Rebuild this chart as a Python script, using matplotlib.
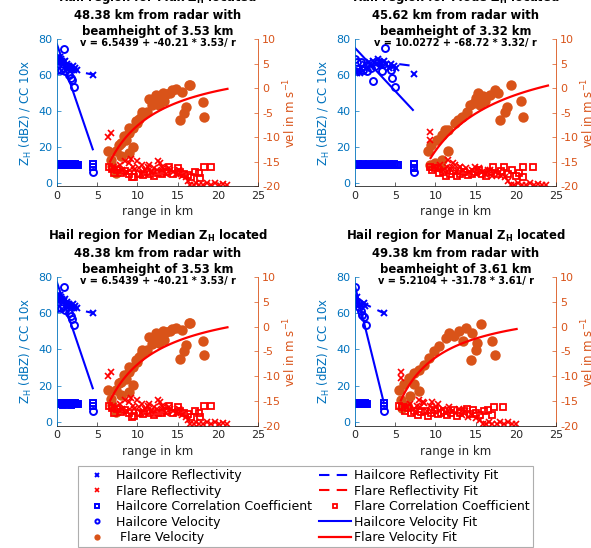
#!/usr/bin/env python3
"""Hailcore / flare radar panels (2x2) with twin y axes, written to out.png."""

import matplotlib

matplotlib.use("Agg")
import matplotlib.pyplot as plt
import numpy as np
from matplotlib.lines import Line2D

plt.rcParams["font.family"] = ["DejaVu Sans"]
plt.rcParams["axes.unicode_minus"] = False

BLUE = "#0000FF"
RED = "#FF0000"
ORANGE = "#D95319"
LEFT_C = "#0072BD"
GREY = "#262626"

# ---------------- panel text ----------------
methods = ["Max", "Mode", "Median", "Manual"]
dist_km = [48.38, 45.62, 48.38, 49.38]
beam_h = [3.53, 3.32, 3.53, 3.61]
fit_a = [6.5439, 10.0272, 6.5439, 5.2104]
fit_b = [-40.21, -68.72, -40.21, -31.78]
fit_r0 = [6.6, 9.4, 6.6, 5.7]
fit_r1 = [21.2, 24.0, 21.2, 20.1]

# ---------------- case A (Max and Median give the same region) ----------------
a_hail_ref_r = [0.1, 0.15, 0.2, 0.3, 0.35, 0.4, 0.5, 0.6, 0.8, 0.9, 1.0, 1.2, 1.3, 1.5,
                1.6, 1.8, 2.0, 2.1, 2.3, 2.5, 4.5]
a_hail_ref_v = [68, 70, 69, 67, 70, 68, 69, 68, 66, 67, 68, 64, 66, 65, 64, 63, 65, 63,
                64, 63, 60]
a_hail_ref_fit_r = [3.6, 4.6]
a_hail_ref_fit_v = [61, 60]
a_hail_cc_r = [0.0, 0.1, 0.2, 0.3, 0.4, 0.5, 0.6, 0.7, 0.8, 0.9, 1.0, 1.1, 1.2, 1.3, 1.4,
               1.5, 1.6, 1.7, 1.8, 1.9, 2.0, 2.1, 2.2, 2.3, 2.4, 2.5, 2.6, 4.45, 4.45]
a_hail_cc_v = [10.2, 9.8, 10.1, 9.7, 10.3, 9.9, 10.0, 10.2, 9.6, 10.1, 9.8, 10.3, 9.9,
               10.0, 9.7, 10.2, 9.9, 10.1, 9.6, 10.2, 9.8, 10.0, 10.3, 9.7, 10.1, 9.9,
               10.0, 10.3, 8.9]
a_hail_vel_r = [0.0, 0.3, 0.5, 0.7, 0.9, 1.0, 1.3, 1.5, 1.7, 1.9, 2.15, 4.45]
a_hail_vel_v = [62.7, 68, 63, 64, 74.6, 62, 65, 60, 58.5, 57, 53.5, 6.2]
a_hail_vel_fit_r = [0.0, 4.45]
a_hail_vel_fit_v = [77, 18.6]
a_flare_ref_r = [6.3, 6.7, 7.0, 7.4, 7.8, 8.1, 8.5, 8.9, 9.2, 9.5, 9.9, 10.2, 10.6, 11.0,
                 11.3, 11.7, 12.1, 12.4, 12.8, 13.2, 13.6, 14.0, 14.4, 14.8, 15.2, 15.6,
                 8.7, 9.6, 10.4, 11.5, 12.6, 13.0, 13.9, 15.0, 16.0, 16.3, 16.6, 17.0,
                 17.3, 17.7, 18.2, 18.7, 19.2, 19.7, 20.1, 20.6, 21.1]
a_flare_ref_v = [25.6, 27.8, 9, 8, 10, 7, 12, 11, 13, 9, 12, 8, 10, 7, 9, 6, 8, 7, 11, 8,
                 5, 7, 6, 5, 7, 4, 6, 7, 5, 10, 12, 9, 8, 5, 3, 1, -1, -1, 0, -1, -1, 0,
                 -1, 0, -1, -0.5, -1]
a_flare_cc_r = [6.5, 6.8, 7.1, 7.5, 8.0, 8.4, 8.9, 9.3, 9.6, 10.2, 10.7, 11.2, 11.6,
                12.1, 12.5, 13.0, 13.5, 13.9, 14.4, 15.0, 15.3, 15.8, 16.3, 16.7, 17.2,
                17.6, 17.8, 18.3, 19.1]
a_flare_cc_v = [9, 7.5, 5.2, 7, 5.5, 6.5, 5, 3, 3.4, 5, 4.5, 6, 5, 4, 5.2, 5, 6, 8.9, 5,
                8, 6, 5, 4.5, 3, 6, 5.2, 2.6, 9, 9]
a_flare_vel_r = [6.3, 6.7, 6.9, 7.3, 7.3, 7.7, 7.9, 8.0, 8.3, 8.6, 9.0, 9.0, 9.0, 9.4,
                 9.4, 9.8, 10.0, 10.2, 10.6, 10.6, 11.2, 11.4, 11.8, 12.1, 12.3, 12.3,
                 12.7, 12.9, 13.2, 13.3, 13.6, 14.1, 14.3, 14.8, 15.3, 15.6, 15.8, 16.0,
                 16.4, 16.6, 18.1, 18.3]
a_flare_vel_v = [-12.9, -14.6, -15.9, -17.3, -12.9, -11.5, -11.2, -13.8, -9.8, -10.5,
                 -9.2, -13.3, -8.1, -8.1, -11.9, -6.7, -7.1, -6.2, -5.4, -4.8, -4.8, -2.2,
                 -3.5, -2.7, -1.4, -1.7, -3.4, -1.7, -0.9, -2.7, -1.2, -1.0, -0.4, -0.2,
                 -6.5, -0.7, -5.0, -3.8, 0.7, 0.7, -2.9, -5.8]

# ---------------- case B (Mode) ----------------
b_hail_ref_r = [0.0, 0.2, 0.4, 0.6, 0.8, 1.0, 1.2, 1.5, 1.7, 2.0, 2.3, 2.6, 2.9, 3.1,
                3.3, 3.6, 3.9, 4.2, 4.5, 4.8, 5.1, 7.3]
b_hail_ref_v = [62, 61, 63, 61, 64, 62, 66, 64, 67, 65, 68, 66, 69, 67, 65, 68, 66, 64,
                66, 65, 64, 60.3]
b_hail_ref_fit_r = [5.5, 7.3]
b_hail_ref_fit_v = [66, 65]
b_hail_cc_r = [0.0, 0.2, 0.4, 0.6, 0.8, 1.0, 1.2, 1.4, 1.6, 1.8, 2.0, 2.2, 2.4, 2.6, 2.8,
               3.0, 3.2, 3.4, 3.6, 3.8, 4.0, 4.2, 4.4, 4.6, 4.8, 5.0, 5.2, 5.4, 7.3, 7.3]
b_hail_cc_v = [10.1, 9.8, 10.2, 9.9, 10.0, 10.3, 9.7, 10.1, 9.9, 10.2, 9.8, 10.0, 10.3,
               9.7, 10.1, 9.9, 10.2, 9.8, 10.0, 10.1, 9.7, 10.2, 9.9, 10.0, 10.3, 9.8,
               10.1, 9.9, 10.6, 8.3]
b_hail_vel_r = [0.0, 0.2, 0.7, 1.0, 1.45, 1.95, 2.2, 2.5, 2.9, 3.3, 3.5, 3.7, 4.5, 4.6,
                5.0, 7.3]
b_hail_vel_v = [69, 67, 67, 63, 62.2, 64, 56.6, 65, 67, 62, 66, 74.8, 63, 58.5, 53.5, 5.9]
b_hail_vel_fit_r = [0.0, 7.2]
b_hail_vel_fit_v = [75, 40.5]
b_flare_ref_r = [9.3, 9.3, 9.8, 10.2, 10.6, 11.0, 11.4, 11.8, 12.2, 12.6, 13.0, 13.4,
                 13.8, 14.2, 14.6, 15.0, 15.4, 15.8, 16.2, 16.6, 17.0, 17.4, 17.8, 18.2,
                 11.6, 12.4, 13.1, 14.9, 16.8, 18.6, 19.0, 19.4, 19.8, 20.3, 20.8, 21.3,
                 21.8, 22.3, 22.8, 23.3, 23.8]
b_flare_ref_v = [28.4, 23.8, 9, 8, 10, 7, 9, 8, 11, 6, 9, 7, 8, 6, 7, 5, 8, 6, 5, 7, 4,
                 6, 5, 4, 12.6, 10, 8.8, 9, 7, 3, 1, -1, -1, 0, -1, -1, 0, -1, -0.5, -1,
                 -1]
b_flare_cc_r = [9.3, 9.6, 10.0, 10.4, 10.9, 11.3, 11.8, 12.2, 12.7, 13.1, 13.6, 14.0,
                14.5, 14.9, 15.4, 15.8, 16.3, 16.7, 17.2, 17.6, 18.1, 18.5, 19.0, 19.5,
                20.0, 20.4, 20.9, 20.9, 22.1]
b_flare_cc_v = [9, 7, 8, 5.5, 6, 4, 5, 6.5, 3.5, 5, 6, 4.5, 5, 6, 7, 5, 4, 6, 8.9, 5,
                6.5, 8.9, 5, 7, 4, 5.2, 8.9, 3.0, 8.9]
b_flare_vel_r = [9.1, 9.3, 9.5, 10.0, 10.2, 10.6, 10.8, 10.8, 11.2, 11.6, 11.6, 12.4,
                 12.8, 13.3, 13.9, 14.3, 14.8, 15.1, 15.3, 15.5, 15.9, 16.2, 16.8, 17.4,
                 17.8, 18.0, 18.7, 18.9, 19.4, 20.7, 20.9]
b_flare_vel_v = [-12.9, -15.6, -11.5, -15.3, -10.5, -16.0, -9.5, -14.6, -8.5, -8.5,
                 -12.9, -7.1, -6.5, -5.8, -4.8, -3.4, -3.0, -2.0, -1.0, -3.4, -1.7, -2.7,
                 -1.4, -0.4, -0.9, -6.5, -4.8, -3.8, 0.7, -2.7, -5.9]

# ---------------- case C (Manual) ----------------
c_hail_ref_r = [0.0, 0.1, 0.2, 0.3, 0.4, 0.6, 0.8, 1.1, 1.3, 3.6]
c_hail_ref_v = [68.6, 67, 66.4, 69, 66, 65, 64.5, 65.5, 64, 60]
c_hail_ref_fit_r = [0.8, 3.6]
c_hail_ref_fit_v = [66, 60]
c_hail_cc_r = [0.0, 0.1, 0.2, 0.3, 0.4, 0.5, 0.6, 0.7, 0.8, 0.9, 1.0, 1.1, 1.2, 1.3,
               1.4, 1.5, 3.6, 3.6]
c_hail_cc_v = [10.1, 9.8, 10.2, 9.9, 10.0, 10.3, 9.7, 10.1, 9.9, 10.2, 9.8, 10.0, 10.3,
               9.7, 10.1, 9.9, 10.3, 9.0]
c_hail_vel_r = [0.0, 0.4, 0.5, 0.7, 0.9, 1.1, 1.33, 3.6]
c_hail_vel_v = [74.7, 65.5, 63.6, 61, 59, 58, 53.5, 6.1]
c_hail_vel_fit_r = [0.0, 3.6]
c_hail_vel_fit_v = [75, 10.3]
c_flare_ref_r = [5.7, 5.7, 6.1, 6.5, 6.9, 7.3, 7.7, 8.1, 8.5, 8.9, 9.3, 9.7, 10.1, 10.5,
                 10.9, 11.3, 11.7, 12.1, 12.5, 12.9, 13.3, 13.7, 14.1, 14.5, 8.0, 8.6,
                 9.6, 10.3, 15.0, 15.5, 15.9, 16.3, 16.7, 17.1, 17.6, 18.0, 18.5, 19.0,
                 19.5, 20.0]
c_flare_ref_v = [27.8, 24.1, 9, 8, 10, 7, 9, 8, 11, 6, 9, 7, 8, 6, 7, 5, 8, 6, 5, 7, 4,
                 6, 3, 4, 12, 10.5, 11, 10, 2, 1, -1, -1, 0, -1, -1, 0, -1, 0, -1, -1]
c_flare_cc_r = [5.5, 5.8, 6.2, 6.6, 7.0, 7.4, 7.8, 8.2, 8.7, 9.1, 9.5, 9.9, 10.3, 10.7,
                11.1, 11.5, 11.9, 12.3, 12.7, 13.1, 13.5, 13.9, 14.3, 14.7, 15.1, 15.6,
                16.0, 16.5, 17.1, 17.3, 18.4]
c_flare_cc_v = [9, 8, 6, 7.5, 5, 6, 4, 5.5, 6, 3.5, 5, 6.5, 4.5, 5, 6, 4, 5, 6.5, 3.5,
                5, 6, 7, 4.5, 6.5, 5, 4, 6, 6.7, 3.9, 8.5, 8.5]
c_flare_vel_r = [5.5, 5.7, 5.9, 6.1, 6.5, 6.7, 6.9, 7.3, 7.35, 8.0, 8.0, 8.6, 9.2, 9.84,
                 10.5, 11.3, 11.7, 12.3, 12.95, 13.4, 13.8, 14.4, 14.6, 15.0, 15.2,
                 15.65, 17.1, 17.4]
c_flare_vel_v = [-12.8, -14.8, -16.4, -11.7, -15.8, -10.4, -14.1, -11.7, -9.4, -8.7,
                 -13.1, -7.7, -6.4, -5.0, -4.0, -2.3, -1.3, -2.0, -1.0, -3.0, -0.3, -6.7,
                 -1.3, -4.7, -3.3, 0.54, -3.0, -5.7]

cases = {
    "A": (a_hail_ref_r, a_hail_ref_v, a_hail_ref_fit_r, a_hail_ref_fit_v,
          a_hail_cc_r, a_hail_cc_v, a_hail_vel_r, a_hail_vel_v,
          a_hail_vel_fit_r, a_hail_vel_fit_v, a_flare_ref_r, a_flare_ref_v,
          a_flare_cc_r, a_flare_cc_v, a_flare_vel_r, a_flare_vel_v),
    "B": (b_hail_ref_r, b_hail_ref_v, b_hail_ref_fit_r, b_hail_ref_fit_v,
          b_hail_cc_r, b_hail_cc_v, b_hail_vel_r, b_hail_vel_v,
          b_hail_vel_fit_r, b_hail_vel_fit_v, b_flare_ref_r, b_flare_ref_v,
          b_flare_cc_r, b_flare_cc_v, b_flare_vel_r, b_flare_vel_v),
    "C": (c_hail_ref_r, c_hail_ref_v, c_hail_ref_fit_r, c_hail_ref_fit_v,
          c_hail_cc_r, c_hail_cc_v, c_hail_vel_r, c_hail_vel_v,
          c_hail_vel_fit_r, c_hail_vel_fit_v, c_flare_ref_r, c_flare_ref_v,
          c_flare_cc_r, c_flare_cc_v, c_flare_vel_r, c_flare_vel_v),
}
panel_case = ["A", "B", "A", "C"]

W, H = 591, 548
panel_px = [(57, 39, 186.3), (355, 39, 186.3), (57, 277, 425.6), (355, 277, 425.6)]
AX_W = 201

fig = plt.figure(figsize=(W / 100, H / 100), dpi=100)

DASH = (5, 3.5)
handles = {}

for i, (x0, ytop, ybot) in enumerate(panel_px):
    ax = fig.add_axes([x0 / W, 1 - ybot / H, AX_W / W, (ybot - ytop) / H])
    ax2 = ax.twinx()
    ax.set_zorder(ax2.get_zorder() + 1)
    ax.patch.set_visible(False)

    (hr, hv, hfr, hfv, cr, cv, vr, vv, vfr, vfv,
     fr, fv, fcr, fcv, fvr, fvv) = cases[panel_case[i]]

    # right axis: flare velocity + fit
    h_fvel, = ax2.plot(fvr, fvv, "o", color=ORANGE, ms=7.5, mec="none")
    rr = np.linspace(fit_r0[i], fit_r1[i], 80)
    h_fvfit, = ax2.plot(rr, fit_a[i] + fit_b[i] * beam_h[i] / rr, color=RED, lw=1.6)

    # left axis: reflectivity, correlation coefficient, hailcore velocity
    h_href, = ax.plot(hr, hv, "x", color=BLUE, ms=4, mew=1.4)
    h_hreffit, = ax.plot(hfr, hfv, color=BLUE, lw=1.5, dashes=DASH)
    h_hcc, = ax.plot(cr, cv, "s", color=BLUE, mfc="none", ms=5, mew=1.4)
    h_hvel, = ax.plot(vr, vv, "o", color=BLUE, mfc="none", ms=5, mew=1.4)
    h_hvfit, = ax.plot(vfr, vfv, color=BLUE, lw=1.5)
    h_fref, = ax.plot(fr, fv, "x", color=RED, ms=4, mew=1.2)
    h_fcc, = ax.plot(fcr, fcv, "s", color=RED, mfc="none", ms=5, mew=1.3)

    ax.set_xlim(0, 25)
    ax.set_ylim(-2, 80)
    ax2.set_ylim(-20, 10)
    ax.set_xticks([0, 5, 10, 15, 20, 25])
    ax.set_yticks([0, 20, 40, 60, 80])
    ax2.set_yticks([-20, -15, -10, -5, 0, 5, 10])

    for a in (ax, ax2):
        a.spines["top"].set_visible(False)
        a.tick_params(direction="in", length=3, width=0.5, labelsize=8)
    ax.spines["right"].set_visible(False)
    ax2.spines["left"].set_visible(False)
    ax2.spines["bottom"].set_visible(False)
    ax.spines["left"].set_color(LEFT_C)
    ax.spines["left"].set_linewidth(0.6)
    ax2.spines["right"].set_color(ORANGE)
    ax2.spines["right"].set_linewidth(0.6)
    ax.spines["bottom"].set_color(GREY)
    ax.spines["bottom"].set_linewidth(0.6)
    ax.tick_params(axis="y", colors=LEFT_C)
    ax.tick_params(axis="x", colors=GREY)
    ax2.tick_params(axis="y", colors=ORANGE, pad=3)

    ax.set_xlabel("range in km", fontsize=8.5, color=GREY, labelpad=3)
    ax.set_ylabel(r"Z$_{\rm H}$ (dBZ) / CC 10x", fontsize=8.5, color=LEFT_C, labelpad=3)
    ax2.set_ylabel(r"vel in m s$^{-1}$", fontsize=8.5, color=ORANGE, labelpad=1)

    title = (r"Hail region for " + methods[i] + r" $\mathbf{Z_H}$ located" + "\n"
             + f"{dist_km[i]:.2f} km from radar with\n"
             + f"beamheight of {beam_h[i]:.2f} km")
    ax.set_title(title, fontsize=8.4, fontweight="bold", pad=3, linespacing=1.3)
    ax.text(0.5, 0.976, f"v = {fit_a[i]:.4f} + {fit_b[i]:.2f} * {beam_h[i]:.2f}/ r",
            transform=ax.transAxes, ha="center", va="center", fontsize=7,
            fontweight="bold")

    handles = dict(href=h_href, fref=h_fref, hcc=h_hcc, hvel=h_hvel, fvel=h_fvel,
                   hreffit=h_hreffit, hvfit=h_hvfit, fvfit=h_fvfit, fcc=h_fcc)

freffit = Line2D([], [], color=RED, lw=1.5, dashes=DASH)
leg_handles = [handles["href"], handles["fref"], handles["hcc"], handles["hvel"],
               handles["fvel"], handles["hreffit"], freffit, handles["fcc"],
               handles["hvfit"], handles["fvfit"]]
leg_labels = ["Hailcore Reflectivity", "Flare Reflectivity",
              "Hailcore Correlation Coefficient", "Hailcore Velocity",
              " Flare Velocity", "Hailcore Reflectivity Fit", "Flare Reflectivity Fit",
              "Flare Correlation Coefficient", "Hailcore Velocity Fit",
              "Flare Velocity Fit"]
leg = fig.legend(leg_handles, leg_labels, ncol=2, loc="upper left",
                 bbox_to_anchor=(78 / W, 1 - 466 / H), fontsize=9, frameon=True,
                 fancybox=False, edgecolor="#9a9a9a", handlelength=2.56,
                 handletextpad=0.24, columnspacing=0.56, labelspacing=0.2,
                 borderpad=0.25, markerscale=0.6, borderaxespad=0)
leg.get_frame().set_linewidth(0.8)

fig.savefig("out.png", dpi=100)
